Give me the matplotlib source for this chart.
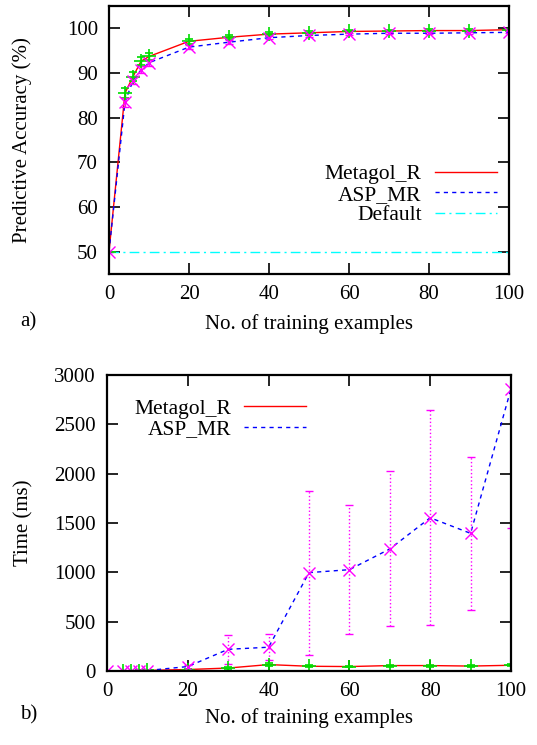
import matplotlib
matplotlib.use("Agg")
import matplotlib.pyplot as plt

plt.rcParams['font.family'] = ['Liberation Serif', 'DejaVu Serif']
plt.rcParams['mathtext.fontset'] = 'stix'

# training set sizes
n_train = [0, 4, 6, 8, 10, 20, 30, 40, 50, 60, 70, 80, 90, 100]

# a) predictive accuracy (%)
acc_metagol = [50, 85.5, 89.2, 92.6, 93.7, 97.1, 98.0, 98.7, 99.0, 99.3, 99.4, 99.5, 99.5, 99.7]
acc_metagol_err = [0, 1.2, 1.0, 0.9, 0.8, 0.5, 0.4, 0.4, 0.4, 0.3, 0.3, 0.3, 0.3, 0.2]
acc_asp = [50, 83.5, 88.3, 90.7, 92.3, 95.8, 96.9, 97.9, 98.4, 98.7, 98.9, 98.9, 99.0, 99.1]
acc_asp_err = [0, 1.0, 0.8, 0.8, 0.7, 0.4, 0.4, 0.3, 0.3, 0.3, 0.2, 0.2, 0.2, 0.2]
acc_default = [50] * len(n_train)

# b) learning time (ms)
time_metagol = [0, 3, 4, 5, 6, 15, 30, 65, 48, 45, 55, 55, 50, 58]
time_metagol_err = [0, 1, 1, 1, 1, 5, 8, 15, 8, 8, 10, 10, 8, 10]
time_asp = [0, 2, 3, 4, 5, 45, 220, 241, 997, 1027, 1237, 1553, 1395, 2860]
time_asp_err = [0, 1, 1, 1, 2, 20, 145, 134, 830, 655, 785, 1088, 778, 1410]

RED = '#ff0000'
GREEN = '#00dd00'
BLUE = '#0000ff'
MAGENTA = '#ff00ff'
CYAN = '#00ffff'
FS = 15
LFS = 15.5

W, H = 537, 745
fig = plt.figure(figsize=(W / 100, H / 100), dpi=100)
ax1 = fig.add_axes([109 / W, 1 - 274 / H, 400 / W, 268 / H])
ax2 = fig.add_axes([107 / W, 1 - 671 / H, 404 / W, 296 / H])


def style(ax, ylab_x):
    for s in ax.spines.values():
        s.set_linewidth(1.6)
    ax.tick_params(direction='in', length=8, width=1.2, top=True, right=True,
                   labelsize=FS, pad=8)
    ax.yaxis.set_label_coords(ylab_x / W, 0.5,
                              transform=matplotlib.transforms.blended_transform_factory(
                                  fig.transFigure, ax.transAxes))


# ---- a) accuracy
ax1.plot(n_train, acc_metagol, color=RED, lw=1.0, label='Metagol_R')
ax1.plot(n_train, acc_asp, color=BLUE, lw=1.0, ls=(0, (3, 3)), label='ASP_MR')
ax1.plot(n_train, acc_default, color=CYAN, lw=1.0, ls=(0, (7, 3, 1.5, 3)), label='Default')
ax1.errorbar(n_train, acc_metagol, yerr=acc_metagol_err, fmt='+', color=GREEN,
             ms=10, mew=1.2, elinewidth=1.0, capsize=3)
ax1.errorbar(n_train, acc_asp, yerr=acc_asp_err, fmt='x', color=MAGENTA,
             ms=9, mew=1.0, elinewidth=1.0, capsize=3)
ax1.set_xlim(0, 100)
ax1.set_ylim(45, 105)
ax1.set_xticks(range(0, 101, 20))
ax1.set_yticks(range(50, 101, 10))
ax1.set_xlabel('No. of training examples', fontsize=FS, labelpad=7)
ax1.set_ylabel('Predictive Accuracy (%)', fontsize=FS, va='center')
style(ax1, 22)
ax1.legend(loc='center right', bbox_to_anchor=(0.97, 0.295), frameon=False,
           markerfirst=False, fontsize=LFS, handlelength=2.9, handletextpad=0.6,
           labelspacing=0.02, borderpad=0, borderaxespad=0)

# ---- b) time
ax2.plot(n_train, time_metagol, color=RED, lw=1.0, label='Metagol_R')
ax2.plot(n_train, time_asp, color=BLUE, lw=1.0, ls=(0, (3, 3)), label='ASP_MR')
ax2.errorbar(n_train, time_metagol, yerr=time_metagol_err, fmt='+', color=GREEN,
             ms=10, mew=1.2, elinewidth=1.0, capsize=3)
eb = ax2.errorbar(n_train, time_asp, yerr=time_asp_err, fmt='x', color=MAGENTA,
                  ms=9, mew=1.0, elinewidth=1.0, capsize=3)
for c in eb[2]:
    c.set_linestyle(':')
ax2.set_xlim(0, 100)
ax2.set_ylim(0, 3000)
ax2.set_xticks(range(0, 101, 20))
ax2.set_yticks(range(0, 3001, 500))
ax2.set_xlabel('No. of training examples', fontsize=FS, labelpad=5)
ax2.set_ylabel('Time (ms)', fontsize=FS, va='center')
style(ax2, 24)
ax2.legend(loc='center right', bbox_to_anchor=(0.493, 0.851), frameon=False,
           markerfirst=False, fontsize=LFS, handlelength=2.9, handletextpad=0.6,
           labelspacing=0.02, borderpad=0, borderaxespad=0)

fig.text(20 / W, 1 - 322 / H, 'a)', fontsize=FS, va='center', ha='left')
fig.text(20 / W, 1 - 715 / H, 'b)', fontsize=FS, va='center', ha='left')

fig.savefig('out.png', dpi=100)
